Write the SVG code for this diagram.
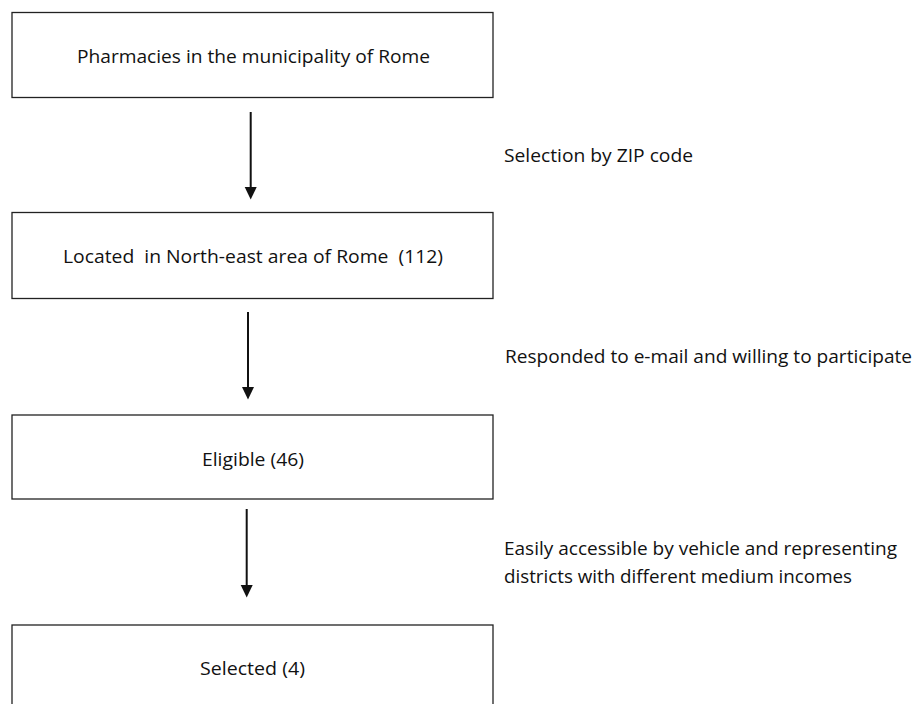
<svg xmlns="http://www.w3.org/2000/svg" width="919" height="704" viewBox="0 0 919 704">
<style>
.box{fill:#fff;stroke:#222;stroke-width:1.3}
.t{font-family:"Open Sans","Liberation Sans",sans-serif;font-size:18.5px;fill:#111}
.c{stroke:#111;stroke-width:2;fill:none}
.h{fill:#111}
</style>
<rect width="919" height="704" fill="#fff"/>
<g id="n1"><rect class="box" x="12" y="12.5" width="481" height="85"/><text class="t" x="77" y="63" textLength="353" lengthAdjust="spacingAndGlyphs">Pharmacies in the municipality of Rome</text></g>
<g id="n2"><rect class="box" x="12" y="212.5" width="481" height="86"/><text class="t" x="63" y="263" textLength="380" lengthAdjust="spacingAndGlyphs" xml:space="preserve">Located  in North-east area of Rome  (112)</text></g>
<g id="n3"><rect class="box" x="12" y="415" width="481" height="84"/><text class="t" x="202" y="466" textLength="102" lengthAdjust="spacingAndGlyphs">Eligible (46)</text></g>
<g id="n4"><rect class="box" x="12" y="625" width="481" height="90"/><text class="t" x="200" y="675" textLength="105" lengthAdjust="spacingAndGlyphs">Selected (4)</text></g>
<g id="connectors">
<path d="M250.7,112 V188" class="c"/><path class="h" d="M244.7,187 L256.7,187 L250.7,199.5 Z"/>
<path d="M248,312 V388" class="c"/><path class="h" d="M242,387 L254,387 L248,399.5 Z"/>
<path d="M246.7,509 V586" class="c"/><path class="h" d="M240.7,585 L252.7,585 L246.7,597.5 Z"/>
</g>
<g id="labels">
<text class="t" x="504" y="162" textLength="189" lengthAdjust="spacingAndGlyphs">Selection by ZIP code</text>
<text class="t" x="505" y="363" textLength="407" lengthAdjust="spacingAndGlyphs">Responded to e-mail and willing to participate</text>
<text class="t" x="504" y="555" textLength="393" lengthAdjust="spacingAndGlyphs">Easily accessible by vehicle and representing</text>
<text class="t" x="504" y="583" textLength="348" lengthAdjust="spacingAndGlyphs">districts with different medium incomes</text>
</g>
</svg>
